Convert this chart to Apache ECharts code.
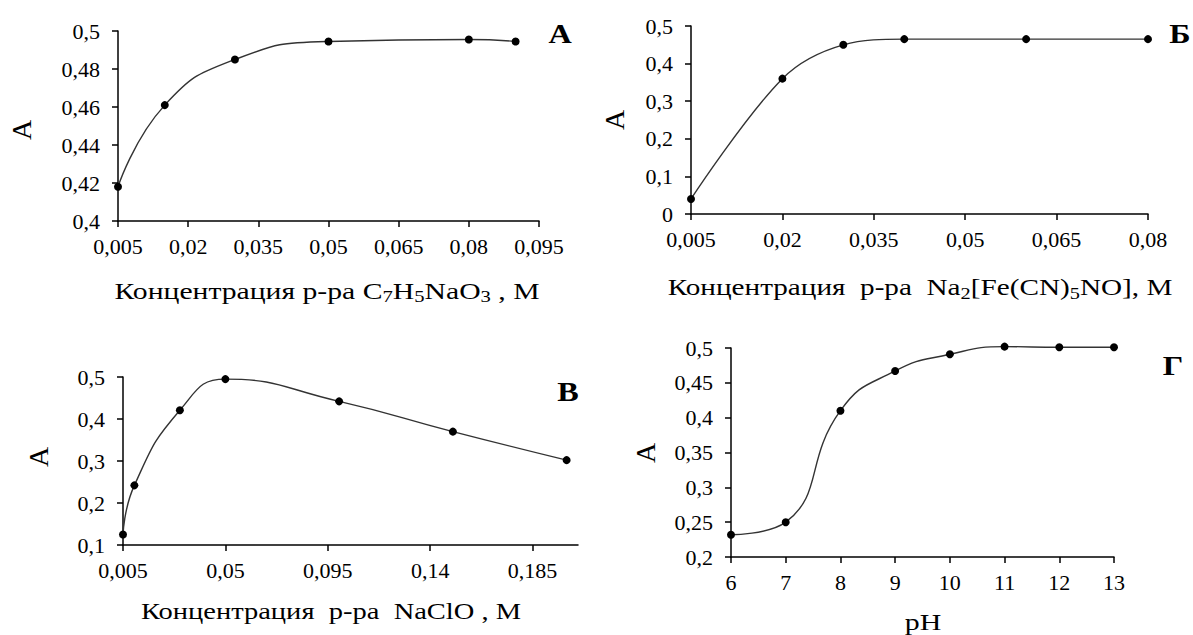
<!DOCTYPE html>
<html><head><meta charset="utf-8">
<script src="https://cdn.jsdelivr.net/npm/echarts@6/dist/echarts.min.js"></script>
<style>html,body{margin:0;padding:0;background:#fff}#c{width:1193px;height:635px}</style>
</head><body><div id="c"></div>
<script>
// ---- data ----
const xA = [0.005, 0.015, 0.03, 0.05, 0.08, 0.09];
const yA = [0.418, 0.461, 0.485, 0.4945, 0.4955, 0.4945];
const xB = [0.005, 0.02, 0.03, 0.04, 0.06, 0.08];
const yB = [0.04, 0.36, 0.45, 0.465, 0.465, 0.465];
const xV = [0.005, 0.01, 0.03, 0.05, 0.1, 0.15, 0.2];
const yV = [0.125, 0.242, 0.421, 0.495, 0.442, 0.37, 0.302];
const xG = [6, 7, 8, 9, 10, 11, 12, 13];
const yG = [0.232, 0.25, 0.41, 0.467, 0.491, 0.502, 0.501, 0.501];
const ticksV = [0.005, 0.05, 0.095, 0.14, 0.185];
const panelLetters = ['А', 'Б', 'В', 'Г'];
const yAxisTitle = 'A';

const FONT = 'Liberation Serif';
const fmt = v => String(+(+v).toFixed(4)).replace('.', ',');

const grids = [
  {left: 118, top: 31, width: 421, height: 190},
  {left: 691, top: 26, width: 457, height: 188},
  {left: 123, top: 377, width: 455, height: 168},
  {left: 731, top: 348, width: 383, height: 209}
];
const xRanges = [
  {min: 0.005, max: 0.095, interval: 0.015},
  {min: 0.005, max: 0.08, interval: 0.015},
  {min: 0.005, max: 0.205, interval: 0.045},
  {min: 6, max: 13, interval: 1}
];
const yRanges = [
  {min: 0.4, max: 0.5, interval: 0.02},
  {min: 0, max: 0.5, interval: 0.1},
  {min: 0.1, max: 0.5, interval: 0.1},
  {min: 0.2, max: 0.5, interval: 0.05}
];
const seriesData = [[xA, yA], [xB, yB], [xV, yV], [xG, yG]];
const smoothness = [0.5, 0.35, 0.5, 0.5];

function axisBase() {
  return {
    axisLine: {show: true, onZero: false, lineStyle: {color: '#000', width: 1.5}},
    axisTick: {show: true, inside: false, length: 6, lineStyle: {color: '#000', width: 1.5}},
    splitLine: {show: false},
    axisLabel: {color: '#000', fontFamily: FONT, fontSize: 22, fontWeight: 'normal', formatter: fmt}
  };
}

const xAxes = xRanges.map((r, i) => {
  const ax = Object.assign({type: 'value', gridIndex: i}, r, axisBase());
  ax.axisLabel.margin = 14;
  if (i === 2) {
    ax.axisLabel.customValues = ticksV;
    ax.axisTick.customValues = ticksV;
  }
  return ax;
});
const yAxes = yRanges.map((r, i) => {
  const ax = Object.assign({type: 'value', gridIndex: i}, r, axisBase());
  ax.axisLabel.margin = 18;
  return ax;
});

const series = seriesData.map((d, i) => ({
  type: 'line',
  xAxisIndex: i, yAxisIndex: i,
  data: d[0].map((x, k) => [x, d[1][k]]),
  smooth: smoothness[i],
  clip: false,
  symbol: 'circle', symbolSize: 8,
  itemStyle: {color: '#000'},
  lineStyle: {color: '#333', width: 1.4},
  z: 3
}));

const txt = (x, y, text, font, extra) => Object.assign({
  type: 'text', x: x, y: y,
  style: {text: text, fill: '#000', align: 'center', verticalAlign: 'middle', font: font}
}, extra || {});

const sub = {fontSize: 16, fontFamily: FONT, fill: '#000', verticalAlign: 'bottom', lineHeight: 16};
const nrm = {fontSize: 23, fontFamily: FONT, fill: '#000', verticalAlign: 'middle', lineHeight: 28};
const richTitle = (x, y, text, sx) => ({
  type: 'text', x: x, y: y, scaleX: sx,
  style: {text: text, align: 'center', verticalAlign: 'middle', fill: '#000',
    fontSize: 23, fontFamily: FONT, rich: {n: nrm, s: sub}}
});

const graphic = [
  richTitle(327, 291, '{n|Концентрация р-ра C}{s|7}{n|H}{s|5}{n|NaO}{s|3}{n| , M}', 1.29),
  richTitle(920, 288, '{n|Концентрация  р-ра  Na}{s|2}{n|[Fe(CN)}{s|5}{n|NO], M}', 1.27),
  richTitle(331, 611, '{n|Концентрация  р-ра  NaClO , M}', 1.24),
  richTitle(923, 622, '{n|pH}', 1.3),
  txt(560, 34, panelLetters[0], 'bold 28px ' + FONT, {scaleX: 1.15}),
  txt(1180, 34, panelLetters[1], 'bold 28px ' + FONT, {scaleX: 1.15}),
  txt(568, 392, panelLetters[2], 'bold 28px ' + FONT, {scaleX: 1.15}),
  txt(1173, 366, panelLetters[3], 'bold 28px ' + FONT, {scaleX: 1.15}),
  txt(21, 130, yAxisTitle, '28px ' + FONT, {rotation: Math.PI / 2}),
  txt(614, 120, yAxisTitle, '28px ' + FONT, {rotation: Math.PI / 2}),
  txt(38, 457, yAxisTitle, '28px ' + FONT, {rotation: Math.PI / 2}),
  txt(645, 453, yAxisTitle, '28px ' + FONT, {rotation: Math.PI / 2})
];

const chart = echarts.init(document.getElementById('c'), null, {renderer: 'svg'});
chart.setOption({
  animation: false,
  backgroundColor: '#fff',
  textStyle: {fontFamily: FONT, color: '#000'},
  grid: grids,
  xAxis: xAxes,
  yAxis: yAxes,
  series: series,
  graphic: graphic
});
</script>
</body></html>
